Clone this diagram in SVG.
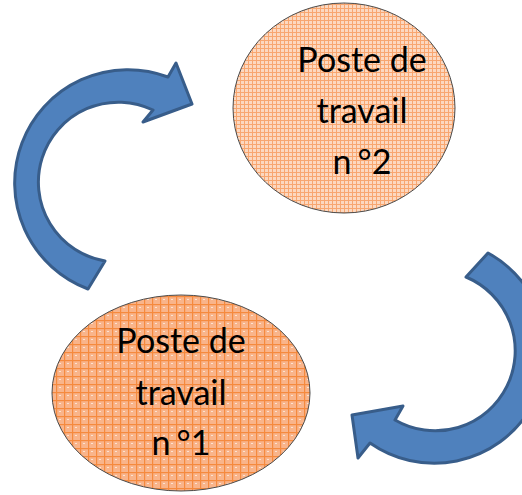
<svg xmlns="http://www.w3.org/2000/svg" width="522" height="495" viewBox="0 0 522 495">
<style>
.arrow{fill:#4F81BD;stroke:#385D8A;stroke-width:3;stroke-linejoin:round}
.node{stroke:#4a4a4a;stroke-width:1}
.lbl{font-family:Lato,"Liberation Sans",sans-serif;font-size:34px;fill:#000;text-anchor:middle}
</style>
<defs>
<pattern id="gridL" width="8" height="8" patternUnits="userSpaceOnUse">
<rect width="8" height="8" fill="#F9B48A"/>
<rect x="3" y="3" width="2" height="1" fill="#FCE2D0"/>
<rect x="0" y="0" width="8" height="1.2" fill="#F58A3E"/>
<rect x="0" y="0" width="1.2" height="8" fill="#F58A3E"/>
</pattern>
<pattern id="gridS" width="4" height="4" patternUnits="userSpaceOnUse">
<rect width="4" height="4" fill="#FCD8C0"/>
<rect x="0" y="0" width="4" height="1" fill="#F8A670"/>
<rect x="0" y="0" width="1" height="4" fill="#F8A670"/>
</pattern>
</defs>
<g id="connectors">
<path class="arrow" d="M 88 289 A 113 113 0 1 1 168 77 L 176 63 L 192 104 L 143 122 L 153 110 A 80 80 0 1 0 105 261 Z"/>
<path class="arrow" d="M 488 253 A 112 112 0 1 1 370 443 L 358 458 L 352 415 L 403 406 L 395 420 A 80 80 0 1 0 466 277 Z"/>
</g>
<g id="node2">
<ellipse class="node" cx="344" cy="108" rx="111" ry="105" fill="url(#gridS)"/>
<text class="lbl" x="362" y="72">Poste de</text>
<text class="lbl" x="362" y="123">travail</text>
<text class="lbl" x="362" y="174">n<tspan dx="6">°</tspan>2</text>
</g>
<g id="node1">
<ellipse class="node" cx="181" cy="393" rx="129" ry="98" fill="url(#gridL)"/>
<text class="lbl" x="181" y="353">Poste de</text>
<text class="lbl" x="181" y="405">travail</text>
<text class="lbl" x="181" y="455">n<tspan dx="6">°</tspan>1</text>
</g>
</svg>
